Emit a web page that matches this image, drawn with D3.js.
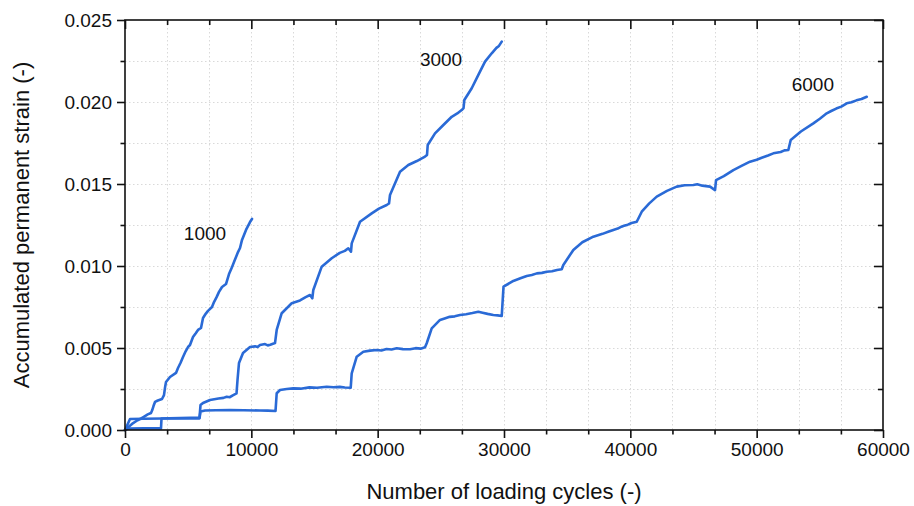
<!DOCTYPE html>
<html>
<head>
<meta charset="utf-8">
<script src="https://cdn.jsdelivr.net/npm/d3@7/dist/d3.min.js"></script>
<style>
  html, body { margin: 0; padding: 0; background: #fff; }
  svg { display: block; font-family: "Liberation Sans", Arial, sans-serif; }
</style>
</head>
<body>
<svg id="chart" width="914" height="506"></svg>
<script>
// Accumulated permanent strain vs. number of loading cycles, three stage lengths
const seriesNames = ["1000", "3000", "6000"];

const cycles1 = [0, 300, 554, 900, 1187, 1583, 1800, 2058, 2150, 2256, 2375, 2600, 2929, 3087, 3170, 3246, 3562, 4037, 4195, 4400, 4591, 4800, 4987, 5145, 5383, 5600, 5779, 6016, 6175, 6400, 6570, 6887, 7045, 7250, 7441, 7679, 7995, 8233, 8450, 8629, 8945, 9104, 9262, 9579, 9895, 10053];
const strain1 = [0, 0.0002, 0.00037, 0.00055, 0.00067, 0.00085, 0.00095, 0.00104, 0.0012, 0.00146, 0.00171, 0.0018, 0.00189, 0.00213, 0.0026, 0.00293, 0.00323, 0.00348, 0.00378, 0.0041, 0.00445, 0.0048, 0.00506, 0.00518, 0.00567, 0.0059, 0.0061, 0.00622, 0.00683, 0.0071, 0.00726, 0.0075, 0.0078, 0.0081, 0.00842, 0.00872, 0.0089, 0.00951, 0.0099, 0.01024, 0.01085, 0.0111, 0.01159, 0.0122, 0.01268, 0.01287];

const cycles2 = [0, 237, 1500, 2850, 2890, 3500, 4354, 5200, 5898, 5977, 6175, 6729, 7400, 7800, 8051, 8300, 8500, 8827, 8906, 9024, 9341, 9895, 10300, 10500, 10687, 11083, 11300, 11500, 11874, 12008, 12404, 13196, 13853, 14300, 14645, 14827, 14906, 15571, 16362, 17000, 17400, 17677, 17890, 17946, 18603, 19529, 20100, 20716, 20898, 20977, 21769, 22426, 23100, 23748, 23906, 23962, 24539, 25200, 25862, 26300, 26653, 26796, 26859, 27445, 28000, 28498, 29028, 29400, 29600, 29820];
const strain2 = [0, 0.00009, 0.0001, 0.0001, 0.0007, 0.00072, 0.00073, 0.00075, 0.00076, 0.00152, 0.00165, 0.00183, 0.00192, 0.00196, 0.00203, 0.002, 0.0021, 0.00223, 0.00305, 0.00409, 0.0047, 0.00506, 0.0051, 0.00506, 0.00518, 0.00524, 0.00516, 0.0052, 0.0053, 0.0061, 0.00712, 0.00773, 0.0079, 0.0081, 0.00823, 0.00803, 0.00854, 0.00996, 0.01047, 0.0108, 0.01092, 0.01108, 0.01087, 0.01138, 0.0127, 0.01321, 0.0135, 0.01372, 0.01381, 0.01433, 0.01575, 0.01616, 0.0164, 0.01667, 0.01677, 0.01738, 0.01809, 0.0186, 0.0191, 0.0193, 0.01951, 0.01963, 0.02012, 0.02084, 0.0217, 0.02246, 0.02297, 0.0233, 0.02342, 0.02368];

const cycles3 = [0, 396, 1500, 3000, 4500, 5898,
  5977, 6333, 7200, 8312, 9400, 10687, 11300, 11914,
  12008, 12269, 12800, 13323, 13900, 14600, 15200, 15967, 16500, 17000, 17400, 17867,
  17946, 18342, 18864, 19400, 19925, 20300, 20700, 21100, 21508, 22000, 22560, 23000, 23400, 23748,
  23883, 24278, 24935, 25300, 25700, 26100, 26519, 27000, 27500, 27968, 28300, 28700, 29155, 29500, 29820,
  29962, 30738, 31300, 31799, 32200, 32600, 33000, 33382, 33800, 34200, 34570,
  34696, 35488, 36200, 37071, 37800, 38300, 38654, 39000, 39300, 39500, 39800, 40100, 40507,
  40903, 41500, 42090, 42900, 43673, 44300, 44987, 45300, 45700, 46000, 46309, 46705,
  46784, 47400, 48154, 48800, 49475, 50000, 50400, 50900, 51320, 51900, 52200, 52507,
  52697, 53500, 54486, 55000, 55546, 55900, 56300, 56700, 57130, 57500, 57900, 58300, 58713];
const strain3 = [0, 0.00067, 0.00069, 0.0007, 0.0007, 0.00071,
  0.00113, 0.00119, 0.0012, 0.00122, 0.0012, 0.00119, 0.00118, 0.00116,
  0.00224, 0.00244, 0.0025, 0.00254, 0.00252, 0.0026, 0.00258, 0.00264, 0.00261, 0.00263, 0.00259, 0.00258,
  0.00346, 0.00447, 0.00477, 0.00484, 0.00488, 0.00485, 0.00494, 0.00491, 0.00498, 0.00493, 0.00492, 0.00499, 0.00496, 0.00504,
  0.00529, 0.0062, 0.00671, 0.0068, 0.0069, 0.00693, 0.00701, 0.00706, 0.00713, 0.00721, 0.00715, 0.00708, 0.00701, 0.00699, 0.00695,
  0.00874, 0.00909, 0.00925, 0.00939, 0.00945, 0.00955, 0.00958, 0.00965, 0.00968, 0.00976, 0.0098,
  0.01006, 0.01098, 0.01145, 0.01179, 0.01196, 0.0121, 0.0122, 0.01228, 0.0124, 0.01245, 0.01252, 0.01262, 0.0127,
  0.01331, 0.01382, 0.01423, 0.01458, 0.01484, 0.01492, 0.01494, 0.01498, 0.0149, 0.01487, 0.01484, 0.01463,
  0.01524, 0.01548, 0.01585, 0.0161, 0.01636, 0.01648, 0.0166, 0.01674, 0.01687, 0.01695, 0.01705, 0.01707,
  0.01768, 0.0182, 0.0187, 0.01898, 0.01931, 0.01945, 0.0196, 0.01972, 0.01992, 0.01998, 0.0201, 0.02018, 0.02032];

// label anchor points (data space) for each series
const labelCycles = [6333, 25015, 54450];
const labelStrain = [0.01159, 0.0222, 0.02067];

const xTickValues = [0, 10000, 20000, 30000, 40000, 50000, 60000];
const yTickValues = [0, 0.005, 0.01, 0.015, 0.02, 0.025];

const svg = d3.select("#chart");
const margin = { left: 125, right: 31, top: 20, bottom: 76 };
const W = 914, H = 506;

const x = d3.scaleLinear().domain([0, 60000]).range([margin.left, W - margin.right]);
const y = d3.scaleLinear().domain([0, 0.025]).range([H - margin.bottom, margin.top]);

const x0 = x.range()[0], x1 = x.range()[1];
const y0 = y.range()[0], y1 = y.range()[1];

// minor positions: thirds of each x decade, halves of each y step
const xMinor = d3.range(0, 60000 + 1, 10000 / 3);
const yMinor = d3.range(0, 0.025 + 1e-9, 0.0025);

// dotted grid
const grid = svg.append("g").attr("stroke", "#d9d9d9").attr("stroke-width", 1).attr("stroke-dasharray", "1.5,2.5");
grid.selectAll("line.gx").data(xMinor.slice(1, -1)).join("line")
  .attr("x1", d => Math.round(x(d)) + 0.5).attr("x2", d => Math.round(x(d)) + 0.5)
  .attr("y1", y1).attr("y2", y0);
grid.selectAll("line.gy").data(yMinor.slice(1, -1)).join("line")
  .attr("y1", d => Math.round(y(d)) + 0.5).attr("y2", d => Math.round(y(d)) + 0.5)
  .attr("x1", x0).attr("x2", x1);

// curves
const line = d3.line().x(d => x(d[0])).y(d => y(d[1]));
const series = [
  d3.zip(cycles1, strain1),
  d3.zip(cycles2, strain2),
  d3.zip(cycles3, strain3)
];
svg.append("g").selectAll("path").data(series).join("path")
  .attr("d", line)
  .attr("fill", "none")
  .attr("stroke", "#2a6ad6")
  .attr("stroke-width", 2.6)
  .attr("stroke-linejoin", "round")
  .attr("stroke-linecap", "round");

// axes: bottom/left ticks outward, top/right ticks inward
const fmtY = d3.format(".3f");
const axisFont = g => g.selectAll("text").attr("font-family", "Liberation Sans, Arial, sans-serif").attr("font-size", 19).attr("fill", "#111");

const bottom = svg.append("g").attr("transform", `translate(0,${y0})`)
  .call(d3.axisBottom(x).tickValues(xTickValues).tickFormat(d3.format("d")).tickSize(8).tickPadding(5));
bottom.call(axisFont);
svg.append("g").attr("transform", `translate(0,${y0})`)
  .call(d3.axisBottom(x).tickValues(xMinor.filter(v => v % 10000 !== 0)).tickSize(4.5).tickFormat(""));

const left = svg.append("g").attr("transform", `translate(${x0},0)`)
  .call(d3.axisLeft(y).tickValues(yTickValues).tickFormat(fmtY).tickSize(8).tickPadding(5));
left.call(axisFont);
svg.append("g").attr("transform", `translate(${x0},0)`)
  .call(d3.axisLeft(y).tickValues(yMinor.filter((v, i) => i % 2 === 1)).tickSize(4.5).tickFormat(""));

svg.append("g").attr("transform", `translate(0,${y1})`)
  .call(d3.axisBottom(x).tickValues(xTickValues).tickSize(9).tickFormat(""));
svg.append("g").attr("transform", `translate(0,${y1})`)
  .call(d3.axisBottom(x).tickValues(xMinor.filter(v => v % 10000 !== 0)).tickSize(5).tickFormat(""));
svg.append("g").attr("transform", `translate(${x1},0)`)
  .call(d3.axisLeft(y).tickValues(yTickValues).tickSize(9).tickFormat(""));
svg.append("g").attr("transform", `translate(${x1},0)`)
  .call(d3.axisLeft(y).tickValues(yMinor.filter((v, i) => i % 2 === 1)).tickSize(5).tickFormat(""));

svg.selectAll(".domain").remove();
svg.selectAll(".tick line").attr("stroke", "#111").attr("stroke-width", 1.6);

// frame
svg.append("rect")
  .attr("x", x0).attr("y", y1).attr("width", x1 - x0).attr("height", y0 - y1)
  .attr("fill", "none").attr("stroke", "#111").attr("stroke-width", 1.6);

// axis titles
svg.append("text")
  .attr("x", (x0 + x1) / 2).attr("y", 499)
  .attr("text-anchor", "middle").attr("font-size", 22).attr("fill", "#111")
  .text("Number of loading cycles (-)");
svg.append("text")
  .attr("transform", `translate(29,${(y0 + y1) / 2}) rotate(-90)`)
  .attr("text-anchor", "middle").attr("font-size", 22).attr("fill", "#111")
  .text("Accumulated permanent strain (-)");

// series labels
svg.append("g").selectAll("text").data(seriesNames).join("text")
  .attr("x", (d, i) => x(labelCycles[i]))
  .attr("y", (d, i) => y(labelStrain[i]))
  .attr("text-anchor", "middle").attr("font-size", 19).attr("fill", "#111")
  .text(d => d);
</script>
</body>
</html>
